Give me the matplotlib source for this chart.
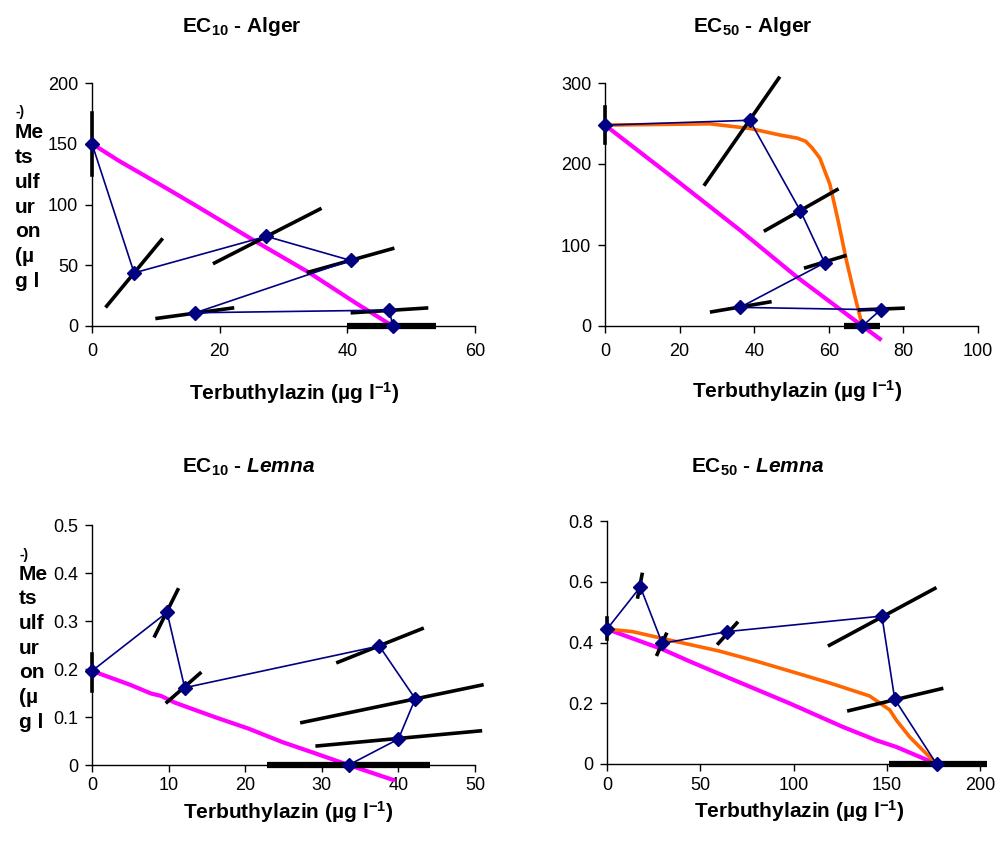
import matplotlib
matplotlib.use("Agg")
import matplotlib.pyplot as plt

plt.rcParams['font.family'] = ['Liberation Sans', 'DejaVu Sans']
plt.rcParams['mathtext.fontset'] = 'custom'
plt.rcParams['mathtext.rm'] = 'Liberation Sans:bold'
plt.rcParams['mathtext.bf'] = 'Liberation Sans:bold'
plt.rcParams['mathtext.it'] = 'Liberation Sans:bold:italic'

# --- EC10 Alger ---
alger10_x = [0, 6.6, 27.3, 40.5, 16.2, 46.6, 47.1]
alger10_y = [150, 43.7, 73.8, 54, 10.9, 13.1, 0]
alger10_mag_x = [0, 4.2, 10.8, 16.3, 25.5, 33.9, 41.3, 47.1]
alger10_mag_y = [150, 136, 116, 99, 70, 44.3, 19, 0]
alger10_seg = [((0, 124), (0, 175)), ((2.3, 16.4), (10.9, 71)), ((19.2, 51.9), (35.7, 96.2)),
               ((33.9, 44.3), (47.1, 63.7)), ((10.2, 6.3), (22, 14.8)), ((40.8, 10.9), (52.4, 14.8))]
alger10_base = (40, 53.9)

# --- EC50 Alger ---
alger50_x = [0, 38.8, 52.4, 58.9, 36.2, 73.9, 69]
alger50_y = [248, 254, 142, 78, 23, 20, 0]
alger50_or_x = [0, 28.1, 38.8, 46.9, 51.5, 53.8, 55.5, 57.6, 60.3, 62.5, 64.7, 67, 69]
alger50_or_y = [248, 249.6, 243.9, 235.8, 232, 228, 220, 207.3, 174.8, 130, 81.3, 36.6, 0]
alger50_mag_x = [0, 18, 36, 51.3, 69, 73.7]
alger50_mag_y = [248, 184, 119, 61, 0, -16]
alger50_seg = [((0, 225.6), (0, 270)), ((26.8, 175), (46.6, 306)), ((43, 118), (62.2, 168.3)),
               ((53.8, 72), (64.3, 86.6)), ((28.6, 17.5), (44.2, 29.7)), ((68.3, 19.9), (79.9, 22))]
alger50_base = (64, 73.8)

# --- EC10 Lemna ---
lemna10_x = [0, 9.8, 12.1, 37.5, 42.2, 40.0, 33.5]
lemna10_y = [0.196, 0.318, 0.161, 0.248, 0.138, 0.054, 0]
lemna10_mag_x = [0, 5.0, 7.7, 9.0, 10.8, 16.0, 20.4, 24.8, 29.2, 33.5, 39.3]
lemna10_mag_y = [0.196, 0.167, 0.149, 0.144, 0.130, 0.100, 0.076, 0.048, 0.024, 0, -0.031]
lemna10_seg = [((0, 0.155), (0, 0.231)), ((8.2, 0.269), (11.2, 0.365)), ((9.8, 0.131), (14.1, 0.191)),
               ((32.1, 0.214), (43.1, 0.284)), ((27.4, 0.0885), (50.9, 0.1666)),
               ((29.4, 0.0397), (50.7, 0.0711))]
lemna10_base = (22.9, 44.1)

# --- EC50 Lemna ---
lemna50_x = [0, 17.9, 29.6, 64.6, 147.4, 154.3, 176.7]
lemna50_y = [0.444, 0.583, 0.397, 0.436, 0.487, 0.213, 0]
lemna50_or_x = [0, 13.5, 35, 60.1, 79.8, 101.3, 119.3, 140.8, 151.6, 155.2, 162.3, 176.7]
lemna50_or_y = [0.444, 0.436, 0.406, 0.372, 0.339, 0.300, 0.267, 0.224, 0.178, 0.144, 0.089, 0]
lemna50_mag_x = [0, 17, 29.6, 43.9, 65.5, 97.8, 126.5, 144.4, 155.2, 176.7]
lemna50_mag_y = [0.444, 0.406, 0.378, 0.339, 0.283, 0.200, 0.122, 0.078, 0.056, 0]
lemna50_seg = [((0, 0.411), (0, 0.48)), ((16.5, 0.55), (18.8, 0.624)), ((26.9, 0.361), (31.7, 0.427)),
               ((59.7, 0.397), (69.6, 0.464)), ((119.3, 0.391), (175.8, 0.578)),
               ((129.7, 0.1756), (179.4, 0.248))]
lemna50_base = (151.2, 203.6)

NAVY = '#000080'
MAGENTA = '#FF00FF'
ORANGE = '#FF6600'

fig = plt.figure(figsize=(9.97, 8.41), dpi=100)
W, H = 997, 841


def make_axes(l, r, t, b):
    return fig.add_axes([l / W, 1 - b / H, (r - l) / W, (b - t) / H])


def style(ax, xlim, xticks, ylim, yticks, xpad=7):
    ax.set_xlim(*xlim)
    ax.set_ylim(*ylim)
    ax.set_xticks(xticks)
    ax.set_yticks(yticks)
    ax.set_xticklabels([f'{v:g}' for v in xticks])
    ax.set_yticklabels([f'{v:g}' for v in yticks])
    for s in ['top', 'right']:
        ax.spines[s].set_visible(False)
    for s in ['left', 'bottom']:
        ax.spines[s].set_linewidth(1.0)
    ax.tick_params(direction='out', length=5, width=1, labelsize=13)
    ax.tick_params(axis='x', pad=xpad)
    ax.tick_params(axis='y', pad=5)
    ax.patch.set_alpha(0)


def draw(ax, px, py, segs, base, mag, orange=None):
    for (x0, y0), (x1, y1) in segs:
        ax.plot([x0, x1], [y0, y1], color='black', lw=2.6, clip_on=False, zorder=3)
    ax.plot(base, [0, 0], color='black', lw=4.5, clip_on=False, zorder=3, solid_capstyle='butt')
    ax.plot(mag[0], mag[1], color=MAGENTA, lw=3, clip_on=False, zorder=2)
    if orange is not None:
        ax.plot(orange[0], orange[1], color=ORANGE, lw=2.6, clip_on=False, zorder=2)
    ax.plot(px, py, color=NAVY, lw=1.2, marker='D', ms=7.5, mfc=NAVY, mec=NAVY,
            clip_on=False, zorder=4)


ax1 = make_axes(92, 475, 83, 326)
style(ax1, (0, 60), [0, 20, 40, 60], (0, 200), [0, 50, 100, 150, 200])
draw(ax1, alger10_x, alger10_y, alger10_seg, alger10_base, (alger10_mag_x, alger10_mag_y))

ax2 = make_axes(605, 978, 83, 326)
style(ax2, (0, 100), [0, 20, 40, 60, 80, 100], (0, 300), [0, 100, 200, 300])
draw(ax2, alger50_x, alger50_y, alger50_seg, alger50_base, (alger50_mag_x, alger50_mag_y),
     (alger50_or_x, alger50_or_y))

ax3 = make_axes(92, 475, 525, 765)
style(ax3, (0, 50), [0, 10, 20, 30, 40, 50], (0, 0.5), [0, 0.1, 0.2, 0.3, 0.4, 0.5], xpad=4)
draw(ax3, lemna10_x, lemna10_y, lemna10_seg, lemna10_base, (lemna10_mag_x, lemna10_mag_y))

ax4 = make_axes(607, 980, 521, 764)
style(ax4, (0, 200), [0, 50, 100, 150, 200], (0, 0.8), [0, 0.2, 0.4, 0.6, 0.8], xpad=4)
draw(ax4, lemna50_x, lemna50_y, lemna50_seg, lemna50_base, (lemna50_mag_x, lemna50_mag_y),
     (lemna50_or_x, lemna50_or_y))

# titles
tkw = dict(ha='center', va='center', fontsize=15, fontweight='bold')
fig.text(242 / W, 1 - 27 / H, r'EC$_{10}$ - Alger', **tkw)
fig.text(753 / W, 1 - 27 / H, r'EC$_{50}$ - Alger', **tkw)
fig.text(249 / W, 1 - 467 / H, r'EC$_{10}$ - $\mathit{Lemna}$', **tkw)
fig.text(758 / W, 1 - 467 / H, r'EC$_{50}$ - $\mathit{Lemna}$', **tkw)

# x axis labels
xl = r'Terbuthylazin (µg l$^{-1}$)'
lkw = dict(ha='center', va='center', fontsize=15, fontweight='bold')
fig.text(294 / W, 1 - 393 / H, xl, **lkw)
fig.text(797 / W, 1 - 391 / H, xl, **lkw)
fig.text(288 / W, 1 - 812 / H, xl, **lkw)
fig.text(799 / W, 1 - 811 / H, xl, **lkw)

# wrapped y labels on the left panels
ylab_lines = ['Me', 'ts', 'ulf', 'ur', 'on', '(µ', 'g l']
for x0, y_dash, y_first in [(15, 112, 133), (19, 555, 574)]:
    fig.text(x0 / W, 1 - y_dash / H, '-)', ha='left', va='center', fontsize=10, fontweight='bold')
    for i, s in enumerate(ylab_lines):
        fig.text(x0 / W, 1 - (y_first + i * 24.7) / H, s, ha='left', va='center',
                 fontsize=15, fontweight='bold')

fig.savefig('out.png', dpi=100)
